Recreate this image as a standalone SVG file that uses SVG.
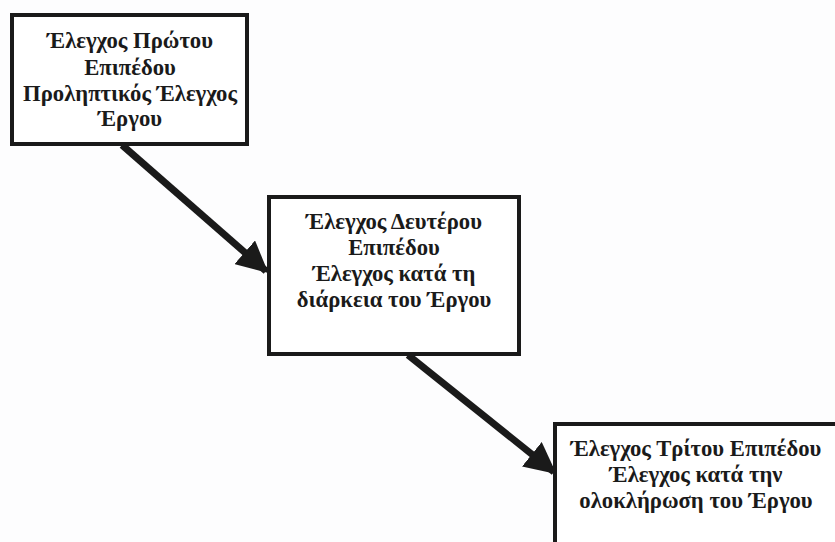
<svg xmlns="http://www.w3.org/2000/svg" width="835" height="542" viewBox="0 0 835 542">
  <defs>
    <style>
      .box { fill: #ffffff; stroke: #1a1a1a; stroke-width: 4; }
      .lbl { font-family: "Liberation Serif", "Times New Roman", serif; font-weight: bold; font-size: 22.7px; fill: #1a1a1a; text-anchor: middle; }
      .edge { stroke: #1a1a1a; stroke-width: 7; fill: none; }
    </style>
    <marker id="head" viewBox="0 0 10 10" refX="9" refY="5" markerWidth="4.5" markerHeight="4.5" markerUnits="strokeWidth" orient="auto">
      <path d="M0,0 L10,5 L0,10 z" fill="#1a1a1a"/>
    </marker>
  </defs>
  <rect width="835" height="542" fill="#fdfdfe"/>

  <g id="connectors">
    <line class="edge" x1="122" y1="145" x2="266" y2="271" marker-end="url(#head)"/>
    <line class="edge" x1="408" y1="355" x2="554" y2="472" marker-end="url(#head)"/>
  </g>

  <g id="level1">
    <rect class="box" x="12" y="15" width="235" height="129"/>
    <text class="lbl" x="130" y="48">Έλεγχος Πρώτου</text>
    <text class="lbl" x="130" y="75">Επιπέδου</text>
    <text class="lbl" x="130" y="101">Προληπτικός Έλεγχος</text>
    <text class="lbl" x="130" y="126">Έργου</text>
  </g>

  <g id="level2">
    <rect class="box" x="269" y="197" width="250" height="157"/>
    <text class="lbl" x="394" y="229">Έλεγχος Δευτέρου</text>
    <text class="lbl" x="394" y="255">Επιπέδου</text>
    <text class="lbl" x="394" y="281">Έλεγχος κατά τη</text>
    <text class="lbl" x="394" y="307">διάρκεια του Έργου</text>
  </g>

  <g id="level3">
    <rect class="box" x="555" y="424" width="290" height="130"/>
    <text class="lbl" x="696" y="456">Έλεγχος Τρίτου Επιπέδου</text>
    <text class="lbl" x="696" y="482">Έλεγχος κατά την</text>
    <text class="lbl" x="696" y="508">ολοκλήρωση του Έργου</text>
  </g>
</svg>
